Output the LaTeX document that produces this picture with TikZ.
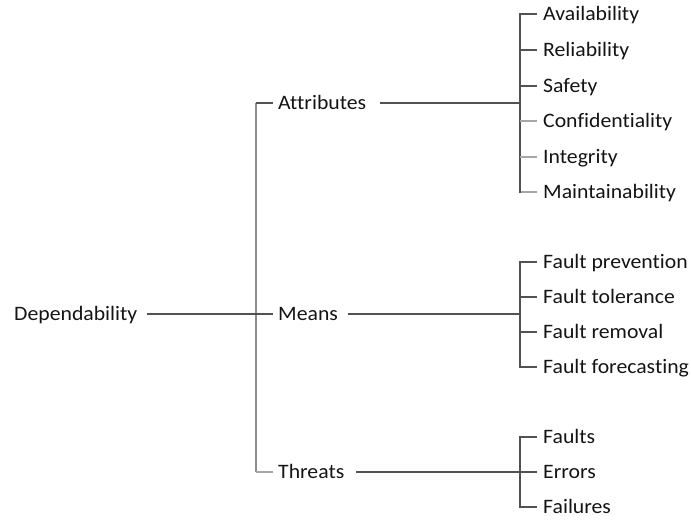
\documentclass[tikz,border=0pt]{standalone}
\usepackage{fontspec}
\setmainfont{Carlito}[FakeStretch=1.06,Ligatures=NoCommon]
\begin{document}
\begin{tikzpicture}[x=1pt,y=-1pt,
  lbl/.style={inner sep=0pt, anchor=base west, text=black!92, font=\fontsize{20.5}{24}\selectfont},
  dark/.style={draw=black!68, line width=1.1pt},
  light/.style={draw=black!35, line width=1.1pt},
  mid/.style={draw=black!45, line width=1.1pt}]
\useasboundingbox (0,0) rectangle (691,520);
% cap-height offset
\def\cy{6.6}
\node[lbl] (dep) at (14,314+\cy) {Dependability};
\node[lbl] (att) at (278,103+\cy) {Attributes};
\node[lbl] (mea) at (278,314+\cy) {Means};
\node[lbl] (thr) at (278,472+\cy) {Threats};
% leaves
\node[lbl] (a1) at (543,14+\cy) {Availability};
\node[lbl] (a2) at (543,50+\cy) {Reliability};
\node[lbl] (a3) at (543,86+\cy) {Safety};
\node[lbl] (a4) at (543,121+\cy) {Confidentiality};
\node[lbl] (a5) at (543,157+\cy) {Integrity};
\node[lbl] (a6) at (543,192+\cy) {Maintainability};
\node[lbl] (m1) at (543,262+\cy) {Fault prevention};
\node[lbl] (m2) at (543,297+\cy) {Fault tolerance};
\node[lbl] (m3) at (543,332+\cy) {Fault removal};
\node[lbl] (m4) at (543,367+\cy) {Fault forecasting};
\node[lbl] (t1) at (543,437+\cy) {Faults};
\node[lbl] (t2) at (543,472+\cy) {Errors};
\node[lbl] (t3) at (543,507+\cy) {Failures};
% junction coordinates
\coordinate (j0t) at (256,103);
\coordinate (j0b) at (256,472);
\coordinate (ja) at (520,103);
\coordinate (jm) at (520,314);
\coordinate (jt) at (520,472);
% root level
\draw[mid] (j0t) -- (j0b);
\draw[dark] ([xshift=9pt]dep.east |- jm) -- ([xshift=-5pt]mea.west |- jm);
\draw[dark] (j0t) -- ([xshift=-5pt]att.west |- j0t);
\draw[light] (j0b) -- ([xshift=-5pt]thr.west |- j0b);
% to brackets
\draw[dark] ([xshift=14pt]att.east |- ja) -- (ja);
\draw[dark] ([xshift=10pt]mea.east |- jm) -- (jm);
\draw[dark] ([xshift=12pt]thr.east |- jt) -- (jt);
% attributes bracket
\draw[dark] ([xshift=-6pt]a1.west |- 0,14) -| ([xshift=-23pt]a6.west |- 0,192) -- ([xshift=-6pt]a6.west |- 0,192);
\draw[dark] ([xshift=-23pt]a2.west |- 0,50) -- ([xshift=-6pt]a2.west |- 0,50);
\draw[dark] ([xshift=-23pt]a3.west |- 0,86) -- ([xshift=-6pt]a3.west |- 0,86);
\draw[light] ([xshift=-23pt]a4.west |- 0,121) -- ([xshift=-6pt]a4.west |- 0,121);
\draw[light] ([xshift=-23pt]a5.west |- 0,157) -- ([xshift=-6pt]a5.west |- 0,157);
\draw[light] ([xshift=-22pt]a6.west |- 0,192) -- ([xshift=-6pt]a6.west |- 0,192);
% means bracket
\draw[dark] ([xshift=-6pt]m1.west |- 0,262) -| ([xshift=-23pt]m4.west |- 0,367) -- ([xshift=-6pt]m4.west |- 0,367);
\draw[dark] ([xshift=-23pt]m2.west |- 0,297) -- ([xshift=-6pt]m2.west |- 0,297);
\draw[dark] ([xshift=-23pt]m3.west |- 0,332) -- ([xshift=-6pt]m3.west |- 0,332);
% threats bracket
\draw[dark] ([xshift=-6pt]t1.west |- 0,437) -| ([xshift=-23pt]t3.west |- 0,507) -- ([xshift=-6pt]t3.west |- 0,507);
\draw[dark] (jt) -- ([xshift=-6pt]t2.west |- jt);
\end{tikzpicture}
\end{document}
